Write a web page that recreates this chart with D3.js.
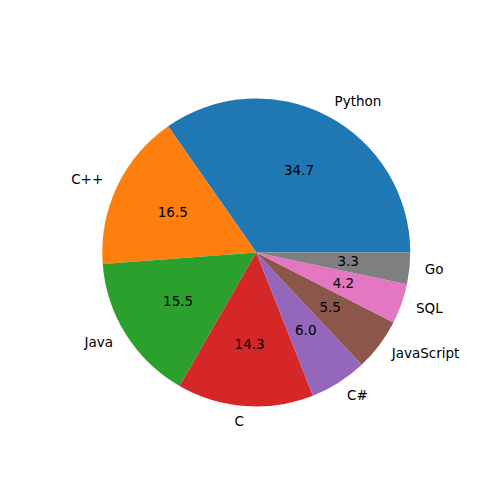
<!DOCTYPE html>
<html>
<head>
<meta charset="utf-8">
<script src="https://cdn.jsdelivr.net/npm/d3@7"></script>
<style>
  body { margin: 0; background: #fff; }
  svg text { font-family: "DejaVu Sans", sans-serif; font-size: 13.5px; fill: #000; }
</style>
</head>
<body>
<div id="chart"></div>
<script>
const languages = ["Python", "C++", "Java", "C", "C#", "JavaScript", "SQL", "Go"];
const shares = [34.7, 16.5, 15.5, 14.3, 6.0, 5.5, 4.2, 3.3];
const colors = ["#1f77b4", "#ff7f0e", "#2ca02c", "#d62728", "#9467bd", "#8c564b", "#e377c2", "#7f7f7f"];

const width = 500, height = 500;
const cx = 256.25, cy = 252.5, radius = 154;

const svg = d3.select("#chart")
    .append("svg")
    .attr("width", width)
    .attr("height", height);

const g = svg.append("g")
    .attr("transform", `translate(${cx},${cy})`);

// matplotlib starts at 3 o'clock and goes counter-clockwise
const pie = d3.pie()
    .sort(null)
    .startAngle(Math.PI / 2)
    .endAngle(Math.PI / 2 - 2 * Math.PI)
    .value(d => d);

const arcs = pie(shares);
const arc = d3.arc().innerRadius(0).outerRadius(radius);

g.selectAll("path")
    .data(arcs)
    .join("path")
    .attr("d", arc)
    .attr("fill", (d, i) => colors[i]);

function mid(d) { return (d.startAngle + d.endAngle) / 2; }

// category labels at 1.1 r
g.selectAll("text.label")
    .data(arcs)
    .join("text")
    .attr("class", "label")
    .attr("x", d => Math.sin(mid(d)) * radius * 1.1)
    .attr("y", d => -Math.cos(mid(d)) * radius * 1.1)
    .attr("dy", "0.3em")
    .attr("text-anchor", d => Math.sin(mid(d)) > 0 ? "start" : "end")
    .text((d, i) => languages[i]);

// percentage labels at 0.6 r
g.selectAll("text.pct")
    .data(arcs)
    .join("text")
    .attr("class", "pct")
    .attr("x", d => Math.sin(mid(d)) * radius * 0.6)
    .attr("y", d => -Math.cos(mid(d)) * radius * 0.6)
    .attr("dy", "0.32em")
    .attr("text-anchor", "middle")
    .text(d => d3.format(".1f")(d.value));
</script>
</body>
</html>
